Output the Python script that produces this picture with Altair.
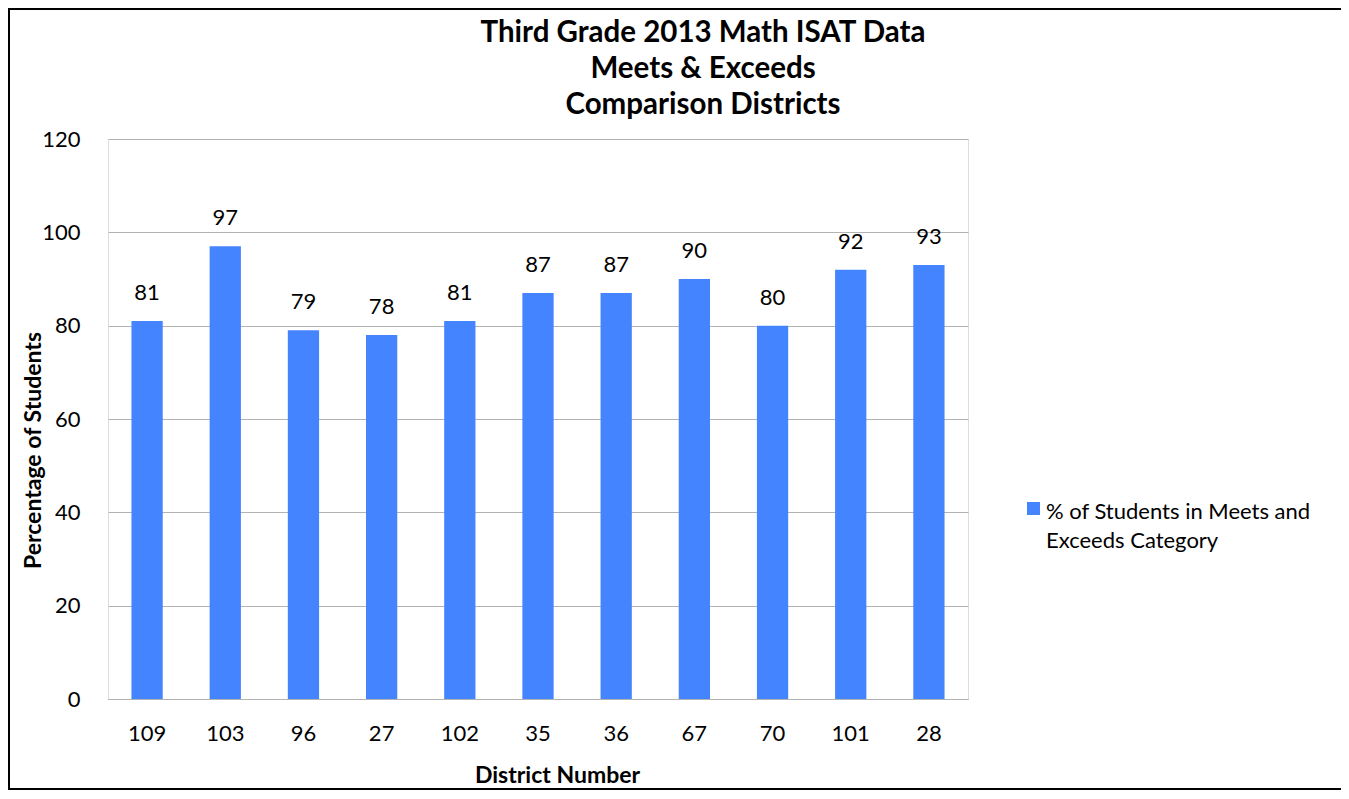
import altair as alt
import pandas as pd

districts = ["109", "103", "96", "27", "102", "35", "36", "67", "70", "101", "28"]
values = [81, 97, 79, 78, 81, 87, 87, 90, 80, 92, 93]
legend_lines = ["% of Students in Meets and", "Exceeds Category"]
title_lines = ["Third Grade 2013 Math ISAT Data", "Meets & Exceeds", "Comparison Districts"]
y_ticks = [0, 20, 40, 60, 80, 100, 120]

df = pd.DataFrame({"district": districts, "value": values})

FONT = "Lato"
BAR = "#4584FF"

base = alt.Chart(df)

bars = base.mark_bar(color=BAR).encode(
    x=alt.X(
        "district:N",
        sort=districts,
        scale=alt.Scale(paddingInner=0.6, paddingOuter=0.3),
        axis=alt.Axis(
            title="District Number",
            labelAngle=0,
            labelFontSize=22,
            labelFont=FONT,
            labelColor="black",
            labelPadding=24,
            ticks=False,
            tickSize=0,
            domain=True,
            domainColor="#B3B3B3",
            titleFont=FONT,
            titleFontSize=23,
            titleFontWeight="bold",
            titleColor="black",
            titleX=449,
            titleY=76,
            titleBaseline="middle",
            titleAlign="center",
        ),
    ),
    y=alt.Y(
        "value:Q",
        scale=alt.Scale(domain=[0, 120]),
        axis=alt.Axis(
            title="Percentage of Students",
            values=y_ticks,
            labelFontSize=22,
            labelFont=FONT,
            labelColor="black",
            labelPadding=28,
            ticks=False,
            tickSize=0,
            domain=False,
            gridColor="#B3B3B3",
            gridWidth=1,
            titleFont=FONT,
            titleFontSize=23,
            titleFontWeight="bold",
            titleColor="black",
            titleX=-75,
            titleY=311,
            titleBaseline="middle",
            titleAlign="center",
            titleAngle=270,
        ),
    ),
)

labels = base.mark_text(fontSize=22, font=FONT, color="black", baseline="middle", dy=-28).encode(
    x=alt.X("district:N", sort=districts),
    y="value:Q",
    text="value:Q",
)

one = alt.Data(values=[{}])

title = alt.Chart(one).mark_text(
    font=FONT, fontSize=29.5, fontWeight="bold", color="black",
    align="center", baseline="alphabetic", lineHeight=36, clip=False
).encode(x=alt.value(595), y=alt.value(-97), text=alt.value(title_lines))

legend_sym = alt.Chart(one).mark_square(
    color=BAR, size=169, opacity=1, clip=False
).encode(x=alt.value(925.5), y=alt.value(369.5))

legend_txt = alt.Chart(one).mark_text(
    font=FONT, fontSize=22, color="black", align="left",
    baseline="alphabetic", lineHeight=29, clip=False
).encode(x=alt.value(938), y=alt.value(380), text=alt.value(legend_lines))

border_top = alt.Chart(one).mark_rule(color="black", strokeWidth=2, clip=False).encode(
    x=alt.value(-100), x2=alt.value(1300), y=alt.value(-130)
)
border_bottom = alt.Chart(one).mark_rule(color="black", strokeWidth=2, clip=False).encode(
    x=alt.value(-100), x2=alt.value(1300), y=alt.value(650)
)
border_left = alt.Chart(one).mark_rule(color="black", strokeWidth=2, clip=False).encode(
    x=alt.value(-99), y=alt.value(-131), y2=alt.value(651)
)

chart = alt.layer(
    bars, labels, title, legend_sym, legend_txt, border_top, border_bottom, border_left
).properties(
    width=860,
    height=560,
    autosize=alt.AutoSizeParams(type="none"),
    padding={"left": 100, "top": 131, "right": 373, "bottom": 92},
).configure_view(
    stroke="#B3B3B3", strokeWidth=1
).configure(
    background="white"
)

chart.save("out.html", embed_options={"renderer": "svg", "actions": False})
